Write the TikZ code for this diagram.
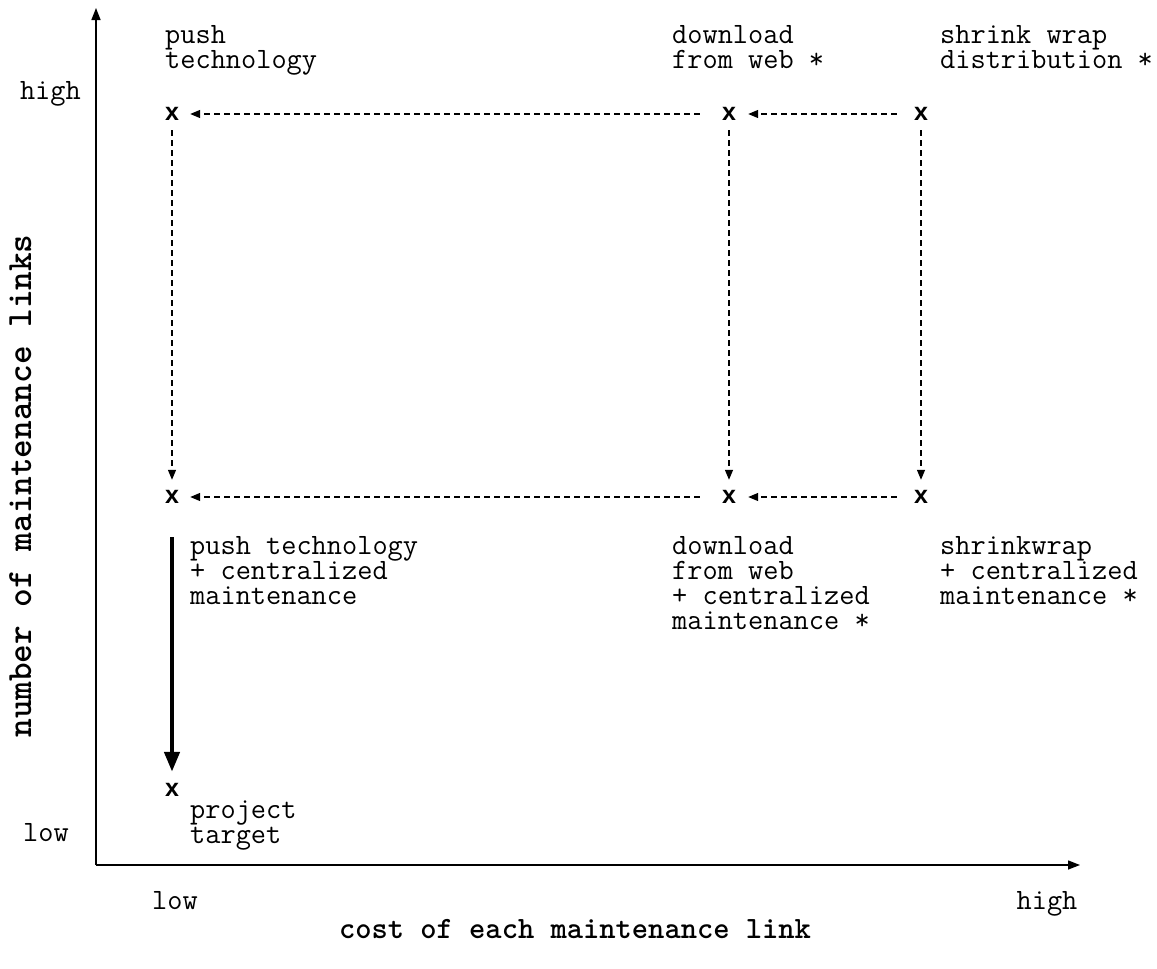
\documentclass[tikz,border=0pt]{standalone}
\usepackage{fontspec}
\newfontfamily\markfont{Liberation Sans}
\newfontfamily\titlefont{lmmonolt10-bold.otf}
\usetikzlibrary{arrows.meta}

\tikzset{
  lbl/.style={font=\ttfamily\fontsize{29.5}{25}\selectfont, align=left, anchor=base west, inner sep=0pt},
  axlbl/.style={font=\ttfamily\fontsize{29.5}{25}\selectfont, inner sep=0pt, anchor=base},
  axtitle/.style={font=\titlefont\fontsize{31}{31}\selectfont, inner sep=0pt, anchor=base},
  pt/.style={font=\markfont\bfseries\fontsize{25}{25}\selectfont, inner sep=0pt, minimum width=14pt, minimum height=14pt},
  axis/.style={line width=1.4pt, -{Triangle[length=12pt,width=9pt]}},
  dasharrow/.style={line width=1.3pt, dash pattern=on 6pt off 4pt, -{Triangle[length=10pt,width=8pt]}},
  longgap/.style={shorten <=22pt, shorten >=11pt},
  shortgap/.style={shorten <=17pt, shorten >=12pt},
  vgap/.style={shorten <=9pt, shorten >=10pt},
  bigarrow/.style={line width=4.5pt, -{Triangle[length=20pt,width=15pt]}, shorten <=33pt, shorten >=11pt}
}

\begin{document}
\begin{tikzpicture}[x=1pt, y=-1pt]
  \useasboundingbox (0,0) rectangle (1157,969);

  % axes
  \coordinate (origin) at (96,865);
  \coordinate (ytop) at (96,8);
  \coordinate (xend) at (1080,865);
  \draw[axis] (origin) -- (ytop);
  \draw[axis] (origin) -- (xend);

  % axis labels
  \node[axlbl, anchor=base east] (yhigh) at (81,99.5) {high};
  \node[axlbl, anchor=base east] (ylow) at (69,841.5) {low};
  \node[axlbl] (xlow) at (175,909.5) {low};
  \node[axlbl] (xhigh) at (1047,909.5) {high};
  \node[axtitle] (xtitle) at (575,938.5) {cost of each maintenance link};
  \node[axtitle, font=\titlefont\fontsize{35.5}{35.5}\selectfont, rotate=90] (ytitle) at (31,486) {number of maintenance links};

  % strategy points
  \node[pt] (pt1) at (172,114) {x};
  \node[pt] (dw1) at (729,114) {x};
  \node[pt] (sw1) at (921,114) {x};
  \node[pt] (pt2) at (172,497) {x};
  \node[pt] (dw2) at (729,497) {x};
  \node[pt] (sw2) at (921,497) {x};
  \node[pt] (target) at (172,790) {x};

  % point labels (anchored at the baseline of the last line)
  \node[lbl] (lpt1) at (165,68.5) {push\\technology};
  \node[lbl] (ldw1) at (672,68.5) {download\\from web *};
  \node[lbl] (lsw1) at (940,68.5) {shrink wrap\\distribution *};
  \node[lbl] (lpt2) at (190,604.5) {push technology\\+ centralized\\maintenance};
  \node[lbl] (ldw2) at (672,629.5) {download\\from web\\+ centralized\\maintenance *};
  \node[lbl] (lsw2) at (940,604.5) {shrinkwrap\\+ centralized\\maintenance *};
  \node[lbl] (ltarget) at (190,843.5) {project\\target};

  % moves between strategies
  \draw[dasharrow, shortgap] (sw1) -- (dw1);
  \draw[dasharrow, longgap] (dw1) -- (pt1);
  \draw[dasharrow, shortgap] (sw2) -- (dw2);
  \draw[dasharrow, longgap] (dw2) -- (pt2);
  \draw[dasharrow, vgap] (pt1) -- (pt2);
  \draw[dasharrow, vgap] (dw1) -- (dw2);
  \draw[dasharrow, vgap] (sw1) -- (sw2);

  % path to the target
  \draw[bigarrow] (pt2) -- (target);
\end{tikzpicture}
\end{document}
